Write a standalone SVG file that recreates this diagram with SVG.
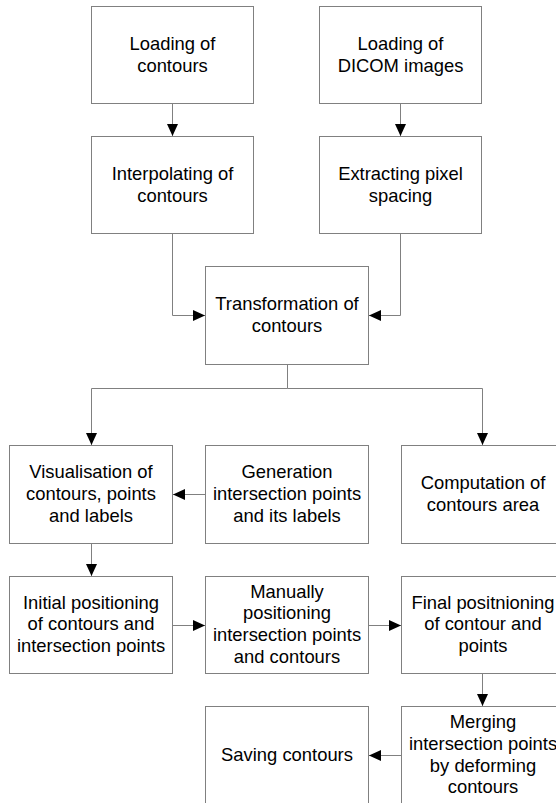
<svg xmlns="http://www.w3.org/2000/svg" width="556" height="803" viewBox="0 0 556 803">
<style>
.box{fill:#fff;stroke:#808080;stroke-width:1}
.t{font-family:"Liberation Sans",Arial,sans-serif;font-size:18.4px;fill:#000;text-anchor:middle}
.c{fill:none;stroke:#808080;stroke-width:1}
</style>
<defs>
<marker id="ah" viewBox="0 0 12 11" refX="12" refY="5.5" markerWidth="12" markerHeight="11" orient="auto" markerUnits="userSpaceOnUse">
<path d="M0,0 L12,5.5 L0,11 z" fill="#000"/>
</marker>
</defs>
<rect width="556" height="803" fill="#fff"/>
<g id="connectors">
<path class="c" d="M172.5,103.5 V136" marker-end="url(#ah)"/>
<path class="c" d="M400.5,103.5 V136" marker-end="url(#ah)"/>
<path class="c" d="M172.5,233.5 V315.5 H205" marker-end="url(#ah)"/>
<path class="c" d="M400.5,233.5 V315.5 H369" marker-end="url(#ah)"/>
<path class="c" d="M287.5,364.5 V388.5"/>
<path class="c" d="M287.5,388.5 H91.5 V445" marker-end="url(#ah)"/>
<path class="c" d="M287.5,388.5 H482.5 V445" marker-end="url(#ah)"/>
<path class="c" d="M205,494.5 H173" marker-end="url(#ah)"/>
<path class="c" d="M91.5,543.5 V576" marker-end="url(#ah)"/>
<path class="c" d="M172.5,625.5 H205" marker-end="url(#ah)"/>
<path class="c" d="M368.5,625.5 H401" marker-end="url(#ah)"/>
<path class="c" d="M482.5,673.5 V706" marker-end="url(#ah)"/>
<path class="c" d="M401,755.5 H369" marker-end="url(#ah)"/>
</g>
<g id="loading-contours">
<rect class="box" x="91.5" y="6.5" width="162" height="97"/>
<text class="t" x="172.5" y="50">Loading of</text>
<text class="t" x="172.5" y="71.7">contours</text>
</g>
<g id="loading-dicom">
<rect class="box" x="319.5" y="6.5" width="162" height="97"/>
<text class="t" x="400.5" y="50">Loading of</text>
<text class="t" x="400.5" y="71.7">DICOM images</text>
</g>
<g id="interpolating">
<rect class="box" x="91.5" y="136.5" width="162" height="97"/>
<text class="t" x="172.5" y="180">Interpolating of</text>
<text class="t" x="172.5" y="201.7">contours</text>
</g>
<g id="extracting">
<rect class="box" x="319.5" y="136.5" width="162" height="97"/>
<text class="t" x="400.5" y="180">Extracting pixel</text>
<text class="t" x="400.5" y="201.7">spacing</text>
</g>
<g id="transformation">
<rect class="box" x="205.5" y="266.5" width="163" height="98"/>
<text class="t" x="287" y="310">Transformation of</text>
<text class="t" x="287" y="331.7">contours</text>
</g>
<g id="visualisation">
<rect class="box" x="9.5" y="445.5" width="163" height="98"/>
<text class="t" x="91" y="478.3">Visualisation of</text>
<text class="t" x="91" y="500">contours, points</text>
<text class="t" x="91" y="521.7">and labels</text>
</g>
<g id="generation">
<rect class="box" x="205.5" y="445.5" width="163" height="98"/>
<text class="t" x="287" y="478.3">Generation</text>
<text class="t" x="287" y="500">intersection points</text>
<text class="t" x="287" y="521.7">and its labels</text>
</g>
<g id="computation">
<rect class="box" x="401.5" y="445.5" width="163" height="98"/>
<text class="t" x="483" y="489">Computation of</text>
<text class="t" x="483" y="510.7">contours area</text>
</g>
<g id="initial">
<rect class="box" x="9.5" y="576.5" width="163" height="97"/>
<text class="t" x="91" y="608.6">Initial positioning</text>
<text class="t" x="91" y="630.3">of contours and</text>
<text class="t" x="91" y="652">intersection points</text>
</g>
<g id="manually">
<rect class="box" x="205.5" y="576.5" width="163" height="97"/>
<text class="t" x="287" y="597.5">Manually</text>
<text class="t" x="287" y="619.2">positioning</text>
<text class="t" x="287" y="640.9">intersection points</text>
<text class="t" x="287" y="662.6">and contours</text>
</g>
<g id="final">
<rect class="box" x="401.5" y="576.5" width="163" height="97"/>
<text class="t" x="483" y="608.6">Final positnioning</text>
<text class="t" x="483" y="630.3">of contour and</text>
<text class="t" x="483" y="652">points</text>
</g>
<g id="saving">
<rect class="box" x="205.5" y="706.5" width="163" height="98"/>
<text class="t" x="287" y="760.8">Saving contours</text>
</g>
<g id="merging">
<rect class="box" x="401.5" y="706.5" width="163" height="98"/>
<text class="t" x="483" y="728.3">Merging</text>
<text class="t" x="483" y="750">intersection points</text>
<text class="t" x="483" y="771.7">by deforming</text>
<text class="t" x="483" y="793.3">contours</text>
</g>
</svg>
